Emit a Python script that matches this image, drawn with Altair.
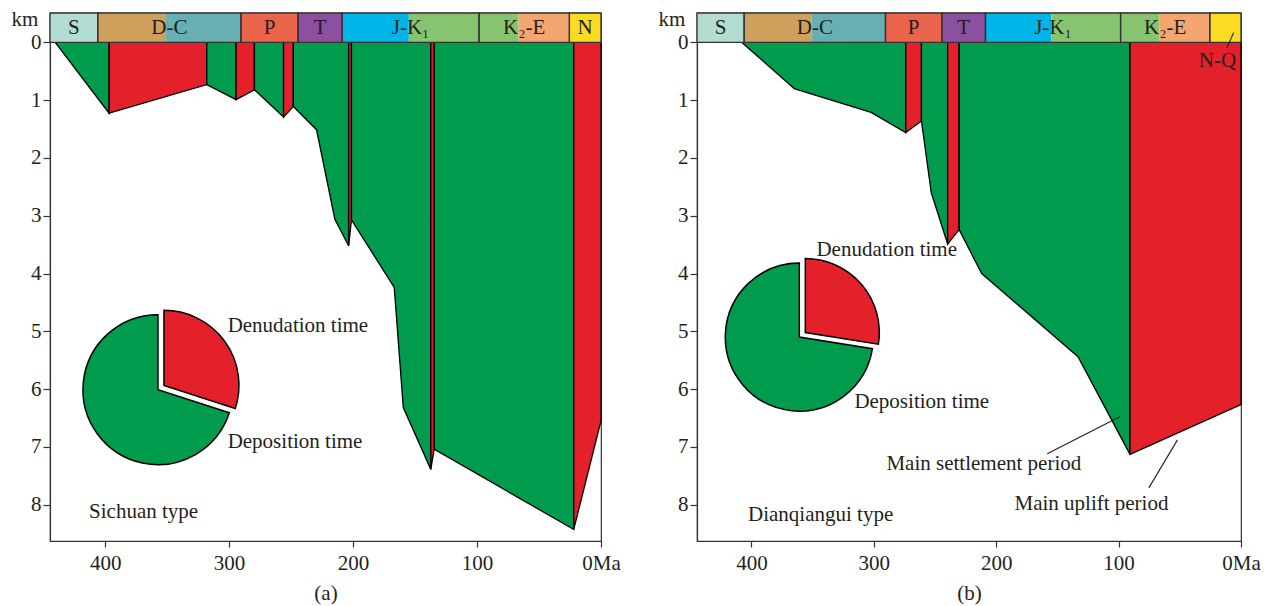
import altair as alt
import pandas as pd

FONT = "Liberation Serif"
TXT = "#231f20"
AX = "#333333"
GREEN = "#009b4c"
RED = "#e4202b"

# ---- geological time scale (Ma) ----
unit_names = ["S", "D", "C", "P", "T", "J", "K1", "K2", "E", "N"]
unit_start = [444.5, 406.0, 351.0, 290.5, 244.4, 208.8, 155.0, 98.4, 66.5, 25.5]
unit_end = [406.0, 351.0, 290.5, 244.4, 208.8, 155.0, 98.4, 66.5, 25.5, 0.0]
unit_colors = ["#b3ddd2", "#cf9f5c", "#67afb2", "#ea654b", "#8b50a0",
               "#00b5e8", "#86c46f", "#86c46f", "#f4a670", "#fcdc22"]

block_start = [444.5, 406.0, 290.5, 244.4, 208.8, 98.4, 25.5]
block_end = [406.0, 290.5, 244.4, 208.8, 98.4, 25.5, 0.0]
labels_a = ["S", "D-C", "P", "T", "J-K\u2081", "K\u2082-E", "N"]
labels_b = ["S", "D-C", "P", "T", "J-K\u2081", "K\u2082-E", ""]

# ---- burial history curves (age Ma, depth km) ----
age_a = [440.3, 396.8, 318.0, 294.4, 279.6, 256.1, 248.2, 229.5, 214.7, 203.6,
         201.3, 166.8, 159.5, 137.3, 134.6, 22.0, 0.0]
depth_a = [0.0, 1.225, 0.73, 0.99, 0.82, 1.29, 1.11, 1.51, 3.06, 3.52,
           3.07, 4.24, 6.32, 7.39, 7.04, 8.43, 6.55]

age_b = [407.8, 365.0, 302.3, 273.9, 261.1, 253.1, 239.7, 230.3, 211.9, 133.2, 90.7, 0.0]
depth_b = [0.0, 0.80, 1.21, 1.56, 1.36, 2.60, 3.49, 3.24, 4.00, 5.44, 7.13, 6.27]

# ---- pie shares (%) ----
pie_kinds = ["Denudation", "Deposition"]
pie_a = [30.0, 70.0]
pie_b = [27.5, 72.5]

BAR_TOP = -0.51
XS = alt.Scale(domain=[0, 444.5], reverse=True, nice=False, zero=False)
YS = alt.Scale(domain=[BAR_TOP, 8.63], reverse=True, nice=False, zero=False)
KIND_SCALE = alt.Scale(domain=pie_kinds, range=[RED, GREEN])


def x_axis(title):
    return alt.Axis(values=[400, 300, 200, 100, 0], grid=False, tickSize=6,
                    labelPadding=5, labelFont=FONT, labelFontSize=21, labelColor=TXT,
                    labelFlush=False, labelOverlap=False,
                    labelExpr="datum.value == 0 ? '0Ma' : datum.label",
                    domainColor=AX, tickColor=AX, domainWidth=1.2, tickWidth=1.2,
                    title=title, titleFont=FONT, titleFontSize=21, titleFontWeight="normal",
                    titleColor=TXT, titlePadding=9)


def y_axis():
    return alt.Axis(values=list(range(9)), grid=False, tickSize=7, labelPadding=2,
                    labelFont=FONT, labelFontSize=21, labelColor=TXT,
                    domainColor=AX, tickColor=AX, domainWidth=1.2, tickWidth=1.2,
                    title="km", titleAngle=0, titleX=-25.5, titleY=6.7,
                    titleAlign="center", titleBaseline="middle",
                    titleFont=FONT, titleFontSize=21, titleFontWeight="normal", titleColor=TXT)


def segments(ages, depths):
    rows = []
    seg = 0
    prev = None
    for i in range(len(ages) - 1):
        kind = "Deposition" if depths[i + 1] > depths[i] else "Denudation"
        if kind != prev:
            seg += 1
            rows.append(dict(seg=seg, kind=kind, age=ages[i], depth=depths[i]))
            prev = kind
        rows.append(dict(seg=seg, kind=kind, age=ages[i + 1], depth=depths[i + 1]))
    return pd.DataFrame(rows)


def panel(ages, depths, labels, shares, pie_c, radius, explode, texts, leaders, title, width):
    xa = x_axis(title)
    ya = y_axis()

    def X(f):
        return alt.X(f, type="quantitative", scale=XS, axis=xa)

    def Y(f):
        return alt.Y(f, type="quantitative", scale=YS, axis=ya)

    seg_df = segments(ages, depths)
    areas = alt.Chart(seg_df).mark_area(stroke="black", strokeWidth=1.3, strokeJoin="miter").encode(
        x=X("age"), y=Y("depth"), y2=alt.datum(0),
        color=alt.Color("kind:N", scale=KIND_SCALE, legend=None),
        detail="seg:N",
    )

    units = pd.DataFrame(dict(unit=unit_names, start=unit_start, end=unit_end))
    bar = alt.Chart(units).mark_rect().encode(
        x=X("start"), x2="end", y=alt.YDatum(BAR_TOP, scale=YS, axis=ya), y2=alt.datum(0),
        color=alt.Color("unit:N", scale=alt.Scale(domain=unit_names, range=unit_colors), legend=None),
    )
    blocks = pd.DataFrame(dict(start=block_start, end=block_end, label=labels))
    outline = alt.Chart(blocks).mark_rect(fillOpacity=0, stroke=AX, strokeWidth=1.3).encode(
        x=X("start"), x2="end", y=alt.YDatum(BAR_TOP, scale=YS, axis=ya), y2=alt.datum(0),
    )
    blabels = alt.Chart(blocks).transform_calculate(mid="(datum.start + datum.end) / 2").mark_text(
        font=FONT, fontSize=21, color=TXT, baseline="middle").encode(
        x=X("mid"), y=alt.YDatum(-0.255, scale=YS, axis=ya), text="label:N")

    pie_df = pd.DataFrame(dict(kind=pie_kinds, share=shares))
    pbase = alt.Chart(pie_df).transform_joinaggregate(total="sum(share)").transform_window(
        cum="sum(share)", sort=[alt.SortField("kind")], frame=[None, 0]).transform_calculate(
        t1="2 * PI * (datum.cum - datum.share) / datum.total",
        t2="2 * PI * datum.cum / datum.total")
    penc = dict(theta=alt.Theta("t1:Q", scale=None), theta2="t2:Q",
                x=alt.XDatum(pie_c[0], scale=XS, axis=xa),
                y=alt.YDatum(pie_c[1], scale=YS, axis=ya),
                color=alt.Color("kind:N", scale=KIND_SCALE, legend=None))
    pie_g = pbase.transform_filter("datum.kind == 'Deposition'").mark_arc(
        radius=radius, stroke="black", strokeWidth=1.5).encode(**penc)
    pie_r = pbase.transform_filter("datum.kind == 'Denudation'").mark_arc(
        radius=radius, stroke="black", strokeWidth=1.5, xOffset=explode[0], yOffset=explode[1]).encode(**penc)

    tdf = pd.DataFrame(texts, columns=["text", "age", "depth"])
    tlayer = alt.Chart(tdf).mark_text(font=FONT, fontSize=21, color=TXT, align="left",
                                      baseline="middle").encode(x=X("age"), y=Y("depth"), text="text:N")
    layers = [areas, bar, outline, blabels, pie_g, pie_r, tlayer]
    if leaders:
        ldf = pd.DataFrame(leaders, columns=["a1", "d1", "a2", "d2"])
        layers.append(alt.Chart(ldf).mark_rule(color=TXT, strokeWidth=1.1).encode(
            x=X("a1"), y=Y("d1"), x2="a2", y2="d2"))
    return alt.layer(*layers).resolve_scale(color="independent").properties(width=width, height=528)


texts_a = [
    ["Denudation time", 301.2, 4.91],
    ["Deposition time", 301.2, 6.92],
    ["Sichuan type", 413.0, 8.13],
]
texts_b = [
    ["Denudation time", 346.9, 3.60],
    ["Deposition time", 315.9, 6.23],
    ["Dianqiangui type", 402.8, 8.18],
    ["Main settlement period", 289.7, 7.29],
    ["Main uplift period", 185.1, 7.99],
    ["N-Q", 34.5, 0.32],
]
leaders_b = [
    [158.3, 7.12, 99.1, 6.48],
    [75.3, 7.71, 51.9, 6.88],
    [6.0, -0.17, 11.7, 0.10],
]

pa = panel(age_a, depth_a, labels_a, pie_a, (357.4, 6.01), 75, (6, -4.3), texts_a, [], "(a)", 551)
pb = panel(age_b, depth_b, labels_b, pie_b, (360.9, 5.10), 74, (6, -4.5), texts_b, leaders_b, "(b)", 544)

chart = alt.hconcat(pa, pb, spacing=36).properties(
    padding={"left": 2, "top": 0, "right": 5, "bottom": 5}
).configure_view(stroke=AX, strokeWidth=1.2)

chart.save("out.html", embed_options={"renderer": "svg", "actions": False})
